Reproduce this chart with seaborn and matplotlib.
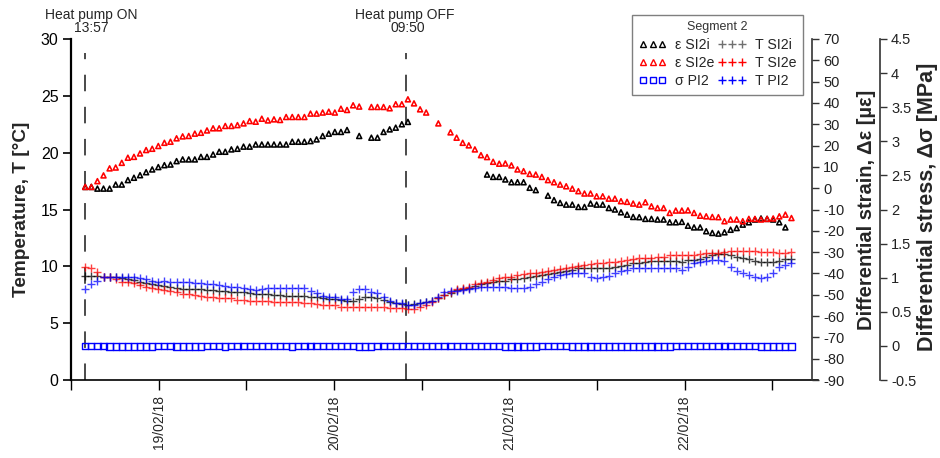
import numpy as np
import pandas as pd
import seaborn as sns
import matplotlib.pyplot as plt
import matplotlib.dates as mdates
from matplotlib.lines import Line2D
from matplotlib.transforms import IdentityTransform

nan = np.nan

# --- data (one sample every 50 min from heat pump ON) ---
t_start = "2018-02-18 13:57"
pump_on = pd.Timestamp("2018-02-18 13:57")
pump_off = pd.Timestamp("2018-02-20 09:50")

# differential strain [µε]
eps_SI2i = [0.6, 0.6, -0.2, -0.2, -0.2, 1.7, 1.7, 3.8, 4.9, 6.1,
            7.5, 8.8, 9.9, 10.8, 11.1, 12.7, 13.5, 13.5, 13.5, 14.7,
            14.7, 15.8, 17.1, 17.1, 18.2, 18.5, 19.5, 19.5, 20.5, 20.5,
            20.5, 20.5, 20.5, 20.5, 21.8, 21.8, 21.8, 22.1, 22.9, 24.5,
            25.6, 26.4, 26.4, 27.3, nan, 24.5, nan, 23.7, 23.7, 26.4,
            27.6, 28.4, 30.0, 31.1, nan, nan, nan, nan, nan, nan,
            nan, nan, nan, nan, nan, nan, 6.4, 5.3, 5.3, 4.1,
            2.8, 2.8, 2.8, 0.2, -0.9, nan, -3.5, -5.6, -6.9, -7.7,
            -7.7, -8.8, -8.8, -7.2, -7.7, -7.7, -9.3, -10.0, -11.3, -12.4,
            -13.5, -13.6, -14.4, -14.4, -14.7, -14.7, -16.0, -16.0, -15.8, -17.6,
            -18.4, -18.4, -20.2, -21.0, -21.3, -20.7, -19.5, -18.7, -17.1, -16.0,
            -14.7, -14.2, -14.4, -14.7, -16.0, -18.4, nan]

eps_SI2e = [0.6, 0.6, 3.3, 6.0, 9.3, 9.7, 11.9, 14.3, 14.7, 16.3,
            17.9, 18.5, 19.8, 21.3, 21.8, 23.4, 24.3, 24.5, 25.6, 26.0,
            27.1, 28.1, 28.1, 29.2, 29.2, 29.6, 30.4, 31.5, 31.2, 32.6,
            31.8, 32.3, 32.0, 33.4, 33.4, 33.4, 33.4, 35.0, 35.0, 35.5,
            35.9, 35.5, 37.3, 36.7, 38.9, 38.3, nan, 38.1, 38.1, 38.1,
            37.5, 39.4, 39.4, 41.7, 39.8, 37.0, 35.5, nan, 30.4, nan,
            26.2, 23.7, 21.3, 20.1, 18.2, 15.5, 14.6, 12.4, 11.5, 11.6,
            10.7, 8.8, 8.0, 6.7, 6.4, 5.3, 3.8, 2.8, 1.7, 0.9,
            -0.2, -1.4, -2.5, -2.5, -3.8, -3.8, -4.9, -4.9, -6.1, -6.4,
            -7.2, -7.7, -6.6, -8.5, -9.3, -9.3, -11.6, -10.5, -10.5, -10.4,
            -11.6, -12.9, -13.2, -13.5, -13.6, -15.5, -14.7, -14.7, -15.5, -14.4,
            -14.4, -14.7, -14.4, -14.2, -13.2, -12.4, -14.0]

# differential stress [MPa]
sigma_PI2 = [0.00, 0.00, 0.00, 0.00, -0.01, -0.01, -0.01, -0.01, -0.01, -0.01,
             -0.01, -0.01, 0.00, 0.00, 0.00, -0.01, -0.01, -0.01, -0.01, -0.01,
             0.00, 0.00, 0.00, -0.01, 0.00, 0.00, 0.00, 0.00, 0.00, 0.00,
             0.00, 0.00, 0.00, 0.00, -0.01, 0.00, 0.00, 0.00, 0.00, 0.00,
             0.00, 0.00, 0.00, 0.00, 0.00, -0.01, -0.01, -0.01, 0.00, 0.00,
             0.00, 0.00, 0.00, 0.00, 0.00, 0.00, 0.00, 0.00, 0.00, 0.00,
             0.00, 0.00, 0.00, 0.00, 0.00, 0.00, 0.00, 0.00, 0.00, -0.01,
             -0.01, -0.01, -0.01, -0.01, -0.01, 0.00, 0.00, 0.00, 0.00, 0.00,
             -0.01, -0.01, -0.01, -0.01, -0.01, -0.01, -0.01, -0.01, -0.01, -0.01,
             -0.01, -0.01, -0.01, -0.01, -0.01, -0.01, -0.01, 0.00, 0.00, 0.00,
             0.00, 0.00, 0.00, 0.00, 0.00, 0.00, 0.00, 0.00, 0.00, 0.00,
             0.00, -0.01, -0.01, -0.01, -0.01, -0.01, -0.01]

# temperatures [°C]
T_SI2i = [9.15, 9.15, 9.15, 9.09, 9.09, 9.03, 8.94, 8.89, 8.80, 8.65,
          8.56, 8.45, 8.36, 8.27, 8.21, 8.12, 8.01, 8.01, 8.01, 7.98,
          7.92, 7.92, 7.86, 7.83, 7.71, 7.71, 7.71, 7.62, 7.57, 7.57,
          7.54, 7.48, 7.48, 7.39, 7.39, 7.39, 7.39, 7.33, 7.27, 7.18,
          7.13, 7.10, 7.04, 6.98, 6.98, 7.10, 7.27, 7.27, 7.18, 7.04,
          6.89, 6.80, 6.69, 6.60, 6.66, 6.74, 6.83, 6.98, 7.18, 7.48,
          7.62, 7.92, 8.01, 8.06, 8.27, 8.42, 8.50, 8.59, 8.71, 8.74,
          8.86, 8.89, 8.94, 9.03, 9.15, 9.24, 9.30, 9.38, 9.53, 9.62,
          9.68, 9.82, 9.88, 9.82, 9.82, 9.82, 9.88, 9.97, 10.06, 10.12,
          10.26, 10.32, 10.41, 10.47, 10.50, 10.50, 10.50, 10.50, 10.41, 10.56,
          10.56, 10.62, 10.85, 11.00, 11.09, 11.09, 11.00, 10.85, 10.70, 10.62,
          10.50, 10.41, 10.41, 10.41, 10.50, 10.62, 10.65]

T_SI2e = [9.97, 9.82, 9.53, 9.09, 9.03, 8.89, 8.65, 8.59, 8.50, 8.36,
          8.21, 8.06, 7.98, 7.92, 7.83, 7.71, 7.57, 7.54, 7.48, 7.39,
          7.33, 7.33, 7.24, 7.18, 7.18, 7.04, 7.04, 6.95, 6.95, 6.95,
          6.95, 6.89, 6.89, 6.83, 6.83, 6.83, 6.74, 6.74, 6.66, 6.60,
          6.60, 6.60, 6.45, 6.45, 6.39, 6.39, 6.39, 6.45, 6.39, 6.39,
          6.36, 6.30, 6.30, 6.22, 6.25, 6.45, 6.60, 6.89, 7.18, 7.48,
          7.77, 7.98, 8.06, 8.21, 8.42, 8.56, 8.65, 8.80, 8.94, 9.03,
          9.09, 9.24, 9.33, 9.38, 9.44, 9.53, 9.62, 9.68, 9.74, 9.82,
          9.91, 10.03, 10.12, 10.21, 10.26, 10.32, 10.35, 10.41, 10.47, 10.56,
          10.62, 10.70, 10.70, 10.76, 10.85, 10.85, 11.00, 11.00, 11.00, 11.00,
          11.00, 11.06, 11.14, 11.14, 11.20, 11.29, 11.35, 11.35, 11.35, 11.35,
          11.35, 11.29, 11.29, 11.29, 11.14, 11.14, 11.23]

T_PI2 = [8.01, 8.45, 8.74, 9.03, 9.09, 9.09, 9.09, 9.03, 9.03, 8.94,
         8.86, 8.74, 8.65, 8.71, 8.65, 8.65, 8.59, 8.59, 8.56, 8.56,
         8.45, 8.42, 8.36, 8.27, 8.15, 8.15, 8.06, 7.98, 7.92, 7.98,
         8.06, 8.06, 8.06, 8.06, 8.06, 8.06, 8.06, 7.86, 7.62, 7.42,
         7.33, 7.27, 7.13, 7.10, 7.77, 7.98, 8.04, 7.77, 7.62, 7.27,
         6.98, 6.80, 6.74, 6.60, 6.60, 6.74, 6.89, 6.98, 7.27, 7.77,
         7.86, 7.83, 7.92, 8.01, 8.12, 8.21, 8.21, 8.21, 8.21, 8.21,
         8.06, 8.06, 8.06, 8.21, 8.45, 8.65, 8.86, 9.09, 9.24, 9.30,
         9.38, 9.44, 9.38, 9.03, 8.94, 9.03, 9.15, 9.38, 9.62, 9.68,
         9.82, 9.88, 9.82, 9.82, 9.82, 9.82, 9.82, 9.82, 9.68, 9.97,
         10.32, 10.41, 10.50, 10.56, 10.56, 10.50, 9.97, 9.62, 9.38, 9.24,
         9.03, 8.94, 9.03, 9.38, 9.97, 10.12, 10.26]

time = pd.date_range(t_start, periods=len(T_SI2i), freq="50min")
df = pd.DataFrame({"time": time,
                   "eps_SI2i": eps_SI2i, "eps_SI2e": eps_SI2e, "sigma_PI2": sigma_PI2,
                   "T_SI2i": T_SI2i, "T_SI2e": T_SI2e, "T_PI2": T_PI2})

# --- style ---
sns.set_theme(style="ticks")
plt.rcParams["font.family"] = ["Liberation Sans", "DejaVu Sans"]
plt.rcParams["axes.unicode_minus"] = False

W, H = 940, 458
fig = plt.figure(figsize=(W / 100, H / 100), dpi=100)
fig.patch.set_facecolor("white")
ax = fig.add_axes([71 / W, 78 / H, 747 / W, 341 / H])
ax2 = ax.twinx()
ax3 = ax.twinx()

# temperatures (left axis)
sns.scatterplot(data=df, x="time", y="T_SI2i", ax=ax, marker="+", color="black",
                s=36, linewidth=1.0, alpha=0.75)
sns.scatterplot(data=df, x="time", y="T_SI2e", ax=ax, marker="+", color="red",
                s=36, linewidth=1.0, alpha=0.75)
sns.scatterplot(data=df, x="time", y="T_PI2", ax=ax, marker="+", color="blue",
                s=36, linewidth=1.0, alpha=0.75)

# strain (first right axis)
sns.scatterplot(data=df, x="time", y="eps_SI2i", ax=ax2, marker="^", facecolors="none",
                edgecolor="black", s=13, linewidth=1.15)
sns.scatterplot(data=df, x="time", y="eps_SI2e", ax=ax2, marker="^", facecolors="none",
                edgecolor="red", s=13, linewidth=1.15)

# stress (second right axis)
sns.scatterplot(data=df, x="time", y="sigma_PI2", ax=ax3, marker="s", facecolors="none",
                edgecolor="blue", s=20, linewidth=1.0)

# heat pump events
for t in (pump_on, pump_off):
    ax.axvline(t, ymin=0, ymax=0.96, color="#4a4a4a", lw=1.4, dashes=(8.5, 8.0), zorder=0)

# axes limits and ticks
ax.set_xlim(pd.Timestamp("2018-02-18 12:00"), pd.Timestamp("2018-02-22 18:15"))
ax.set_ylim(0, 30)
ax.set_yticks(np.arange(0, 31, 5))
ax2.set_ylim(-90, 70)
ax2.set_yticks(np.arange(-90, 71, 10))
ax3.set_ylim(-0.5, 4.5)
ax3.set_yticks(np.arange(-0.5, 4.51, 0.5))
ax3.yaxis.set_major_formatter(plt.FormatStrFormatter("%g"))

ax.xaxis.set_major_locator(mdates.DayLocator())
ax.xaxis.set_major_formatter(mdates.DateFormatter("%d/%m/%y"))
ax.xaxis.set_minor_locator(mdates.HourLocator(byhour=[12]))
ax.tick_params(axis="x", which="both", direction="out", length=7, width=1.0,
               color="black", labelsize=10, labelrotation=90, pad=4)
ax.tick_params(axis="y", direction="out", length=6, width=1.2, color="black",
               labelsize=11.5, labelcolor="black", pad=3)
for a in (ax2, ax3):
    a.tick_params(axis="y", direction="out", length=5, width=1.0, color="#333333",
                  labelsize=10.5, labelcolor="#222222", pad=3)

for s in ("top", "right"):
    ax.spines[s].set_visible(False)
ax.spines["left"].set_linewidth(1.6)
ax.spines["left"].set_color("black")
ax.spines["bottom"].set_linewidth(1.2)
ax.spines["bottom"].set_color("black")
for a, pos in ((ax2, 0.992), (ax3, 1.083)):
    for s in ("top", "left", "bottom"):
        a.spines[s].set_visible(False)
    a.spines["right"].set_position(("axes", pos))
    a.spines["right"].set_linewidth(1.2)
    a.spines["right"].set_color("#333333")

ax.set_xlabel("")
ax.set_ylabel("Temperature, T [°C]", fontsize=13.7, fontweight="bold")
ax.yaxis.set_label_coords(-0.055, 0.5)
ax2.set_ylabel("Differential strain, Δε [µε]", fontsize=14.5, fontweight="bold")
ax2.yaxis.set_label_coords(1.052, 0.5)
ax3.set_ylabel("Differential stress, Δσ [MPa]", fontsize=15.5, fontweight="bold")
ax3.yaxis.set_label_coords(1.1325, 0.507)
ax2.set_xlabel("")
ax3.set_xlabel("")

# annotations above the plot
fig.text(91 / W, 1 - 15 / H, "Heat pump ON", ha="center", va="center", fontsize=10)
fig.text(91 / W, 1 - 28.5 / H, "13:57", ha="center", va="center", fontsize=10)
fig.text(405 / W, 1 - 15 / H, "Heat pump OFF", ha="center", va="center", fontsize=10)
fig.text(408 / W, 1 - 28.5 / H, "09:50", ha="center", va="center", fontsize=10)

# legend
handles = [
    Line2D([], [], ls="none", marker="^", mfc="none", mec="black", mew=1.0, ms=4),
    Line2D([], [], ls="none", marker="^", mfc="none", mec="red", mew=1.0, ms=4),
    Line2D([], [], ls="none", marker="s", mfc="none", mec="blue", mew=1.0, ms=5),
    Line2D([], [], ls="none", marker="+", color="#707070", mew=1.0, ms=6),
    Line2D([], [], ls="none", marker="+", color="red", mew=1.0, ms=6),
    Line2D([], [], ls="none", marker="+", color="blue", mew=1.0, ms=6),
]
labels = ["ε SI2i", "ε SI2e", "σ PI2", "T SI2i", "T SI2e", "T PI2"]
leg = fig.legend(handles, labels, ncol=2, loc="upper left",
                 bbox_to_anchor=(632 / W, 1 - 15 / H), bbox_transform=fig.transFigure,
                 borderaxespad=0,
                 frameon=True, fancybox=False, edgecolor="#7f7f7f", framealpha=1,
                 title="Segment 2", title_fontsize=9, fontsize=10.2, numpoints=3,
                 handlelength=2.0, handletextpad=0.6, columnspacing=0.25,
                 borderpad=0.45, labelspacing=0.3)
leg.get_frame().set_linewidth(1.0)
leg.get_title().set_color("#333333")

fig.canvas.draw()
bb = leg.get_title().get_window_extent()
fig.add_artist(Line2D([bb.x0, bb.x1], [bb.y0 + 0.5, bb.y0 + 0.5],
                      transform=IdentityTransform(), color="#333333", lw=0.8))

fig.savefig("out.png", dpi=100, facecolor="white")
